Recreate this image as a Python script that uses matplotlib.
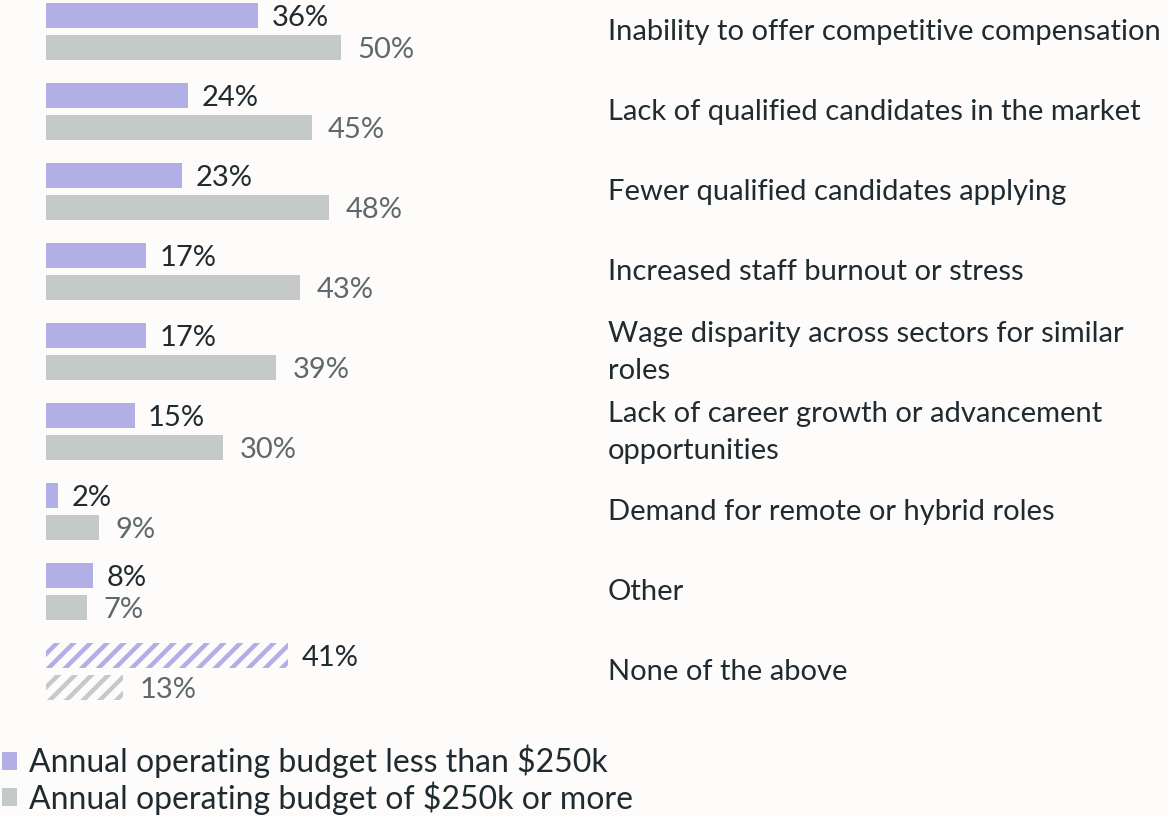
import numpy as np
import matplotlib.pyplot as plt
from matplotlib.patches import Patch

categories = [
    'Inability to offer competitive compensation',
    'Lack of qualified candidates in the market',
    'Fewer qualified candidates applying',
    'Increased staff burnout or stress',
    'Wage disparity across sectors for similar\nroles',
    'Lack of career growth or advancement\nopportunities',
    'Demand for remote or hybrid roles',
    'Other',
    'None of the above',
]
small_budget = [36, 24, 23, 17, 17, 15, 2, 8, 41]
large_budget = [50, 45, 48, 43, 39, 30, 9, 7, 13]
series_names = ['Annual operating budget less than $250k',
                'Annual operating budget of $250k or more']

purple = '#b1afe6'
grey = '#c6c9ca'
dark = '#1f2b31'
grey_text = '#5e696d'
bg = '#fefcfa'

plt.rcParams['font.family'] = ['Lato', 'DejaVu Sans']
plt.rcParams['hatch.linewidth'] = 3.2

W, H = 1168, 817
fig = plt.figure(figsize=(W / 100, H / 100), dpi=100, facecolor=bg)
# axes in pixel terms: left 46, top 0, bottom 720 -> 80 px per group
ax = fig.add_axes([46 / W, 1 - 720 / H, (W - 46) / W, 720 / H])
ax.set_facecolor(bg)
px_per_unit = 5.9
ax.set_xlim(0, (W - 46) / px_per_unit)
ax.set_ylim((720 - 31.5) / 80, -31.5 / 80)
ax.axis('off')

fs = 21
y = np.arange(len(categories))
off = 0.2
h = 0.31
line_gap = 37 / 80
for i in y:
    hatched = categories[i] == 'None of the above'
    if hatched:
        ax.barh(i - off, small_budget[i], height=h, color='none',
                edgecolor=purple, hatch='//', linewidth=0)
        ax.barh(i + off, large_budget[i], height=h, color='none',
                edgecolor=grey, hatch='//', linewidth=0)
    else:
        ax.barh(i - off, small_budget[i], height=h, color=purple)
        ax.barh(i + off, large_budget[i], height=h, color=grey)
    ax.text(small_budget[i] + 2.3, i - off + 0.13, f'{small_budget[i]}%',
            va='baseline', ha='left', fontsize=fs, color=dark)
    ax.text(large_budget[i] + 2.8, i + off + 0.13, f'{large_budget[i]}%',
            va='baseline', ha='left', fontsize=fs, color=grey_text)
    lines = categories[i].split('\n')
    first = i + 0.11 - (len(lines) - 1) * line_gap / 2
    for k, line in enumerate(lines):
        ax.text((608 - 46) / px_per_unit, first + k * line_gap, line,
                va='baseline', ha='left', fontsize=fs, color=dark)

handles = [Patch(facecolor=purple), Patch(facecolor=grey)]
fig.legend(handles, series_names, loc='upper left',
           bbox_to_anchor=(0.002, 1 - 745 / H), frameon=False,
           fontsize=23, labelcolor=dark, handlelength=0.47, handleheight=0.47,
           handletextpad=0.37, labelspacing=0.08, borderpad=0,
           borderaxespad=0)

fig.savefig('out.png', dpi=100, facecolor=bg)
